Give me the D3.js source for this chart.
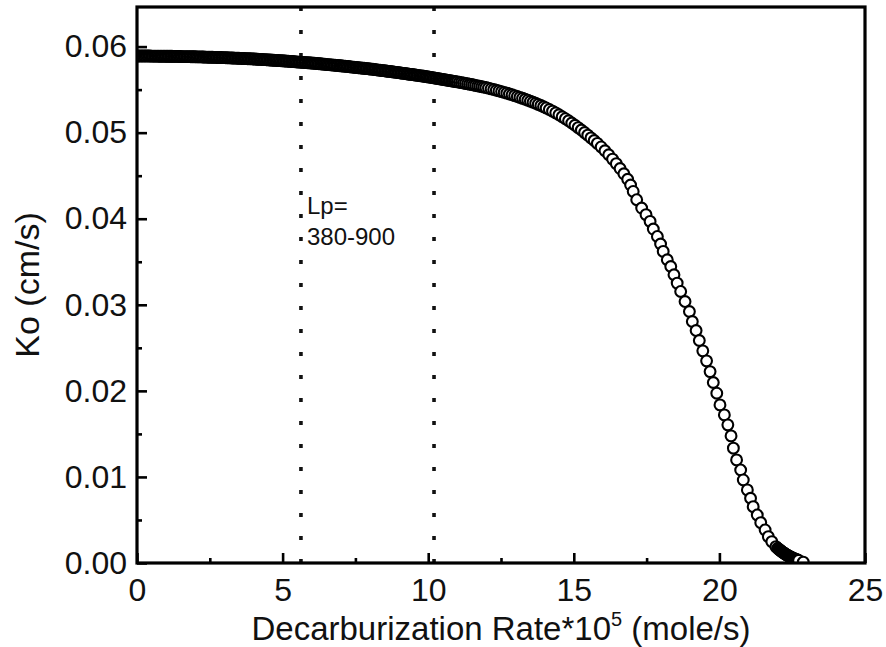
<!DOCTYPE html>
<html>
<head>
<meta charset="utf-8">
<script src="https://cdn.jsdelivr.net/npm/d3@7"></script>
<style>
  body { margin: 0; background: #fff; }
  text { font-family: "Liberation Sans", Arial, sans-serif; fill: #111; }
</style>
</head>
<body>
<div id="chart"></div>
<script>
// decarburization rate (*10^5 mole/s)
var rate = [
  0.00, 0.05, 0.10, 0.15, 0.20, 0.25, 0.30, 0.35, 0.40, 0.45, 0.50, 0.55, 0.60, 0.65, 0.70, 0.75, 0.80, 0.85, 0.90, 0.95,
  1.00, 1.05, 1.10, 1.15, 1.20, 1.25, 1.30, 1.35, 1.40, 1.45, 1.50, 1.55, 1.60, 1.65, 1.70, 1.75, 1.80, 1.85, 1.90, 1.95,
  2.00, 2.05, 2.10, 2.15, 2.20, 2.25, 2.30, 2.35, 2.40, 2.45, 2.50, 2.55, 2.60, 2.65, 2.70, 2.75, 2.80, 2.85, 2.90, 2.95,
  3.00, 3.05, 3.10, 3.15, 3.20, 3.25, 3.30, 3.35, 3.40, 3.45, 3.50, 3.55, 3.60, 3.65, 3.70, 3.75, 3.80, 3.85, 3.90, 3.95,
  4.00, 4.05, 4.10, 4.15, 4.20, 4.25, 4.30, 4.35, 4.40, 4.45, 4.50, 4.55, 4.60, 4.65, 4.70, 4.75, 4.80, 4.85, 4.90, 4.95,
  5.00, 5.05, 5.10, 5.15, 5.20, 5.25, 5.30, 5.35, 5.40, 5.45, 5.50, 5.55, 5.60, 5.65, 5.70, 5.75, 5.80, 5.85, 5.90, 5.95,
  6.00, 6.05, 6.10, 6.15, 6.20, 6.25, 6.30, 6.35, 6.40, 6.45, 6.50, 6.55, 6.60, 6.65, 6.70, 6.75, 6.80, 6.85, 6.90, 6.95,
  7.00, 7.05, 7.10, 7.15, 7.20, 7.25, 7.30, 7.35, 7.40, 7.45, 7.50, 7.55, 7.60, 7.65, 7.70, 7.75, 7.80, 7.85, 7.90, 7.95,
  8.00, 8.05, 8.10, 8.15, 8.20, 8.25, 8.30, 8.35, 8.40, 8.45, 8.50, 8.55, 8.60, 8.65, 8.70, 8.75, 8.80, 8.85, 8.90, 8.95,
  9.00, 9.05, 9.10, 9.15, 9.20, 9.25, 9.30, 9.35, 9.40, 9.45, 9.50, 9.55, 9.60, 9.65, 9.70, 9.75, 9.80, 9.85, 9.90, 9.95,
  10.00, 10.05, 10.10, 10.15, 10.20, 10.25, 10.30, 10.35, 10.40, 10.45, 10.50, 10.55, 10.60, 10.65, 10.70, 10.75, 10.80, 10.85, 10.90, 10.95,
  11.00, 11.07, 11.14, 11.21, 11.28, 11.35, 11.42, 11.49, 11.56, 11.63, 11.70, 11.77, 11.84, 11.91, 11.98,
  12.07, 12.16, 12.25, 12.34, 12.43, 12.52, 12.61, 12.70, 12.79, 12.88, 12.97, 13.06,
  13.15, 13.24, 13.33, 13.42, 13.51, 13.60, 13.69, 13.78, 13.87, 13.96, 14.05,
  14.16, 14.27, 14.38, 14.49, 14.60, 14.71, 14.82, 14.93, 15.04, 15.15, 15.26, 15.37, 15.48, 15.59, 15.70,
  15.81, 15.94, 16.07, 16.20, 16.33, 16.46, 16.59, 16.72, 16.85, 16.95,
  17.04, 17.16, 17.33, 17.48, 17.62, 17.73, 17.87, 17.98, 18.07, 18.21, 18.33, 18.44, 18.55, 18.67,
  18.82, 18.97, 19.07, 19.20, 19.31, 19.43, 19.56, 19.68, 19.79, 19.91, 20.02, 20.17, 20.29, 20.40,
  20.48, 20.59, 20.73, 20.82, 20.96, 21.07, 21.16, 21.30, 21.42, 21.57, 21.68, 21.80, 21.94,
  22.00, 22.03, 22.06, 22.09, 22.12, 22.15, 22.18, 22.21, 22.24, 22.27, 22.30, 22.33, 22.36,
  22.39, 22.42, 22.45, 22.48, 22.51, 22.54, 22.57, 22.60, 22.63, 22.66, 22.69, 22.72, 22.88
];

// Ko (cm/s), one per rate above
var ko = [
  0.05890, 0.05890, 0.05890, 0.05890, 0.05890, 0.05890, 0.05890, 0.05890, 0.05890, 0.05890, 0.05889, 0.05889, 0.05889, 0.05889, 0.05889, 0.05888, 0.05888, 0.05888, 0.05888, 0.05888,
  0.05888, 0.05887, 0.05887, 0.05887, 0.05887, 0.05886, 0.05886, 0.05886, 0.05886, 0.05885, 0.05885, 0.05884, 0.05884, 0.05884, 0.05884, 0.05883, 0.05883, 0.05882, 0.05882, 0.05882,
  0.05882, 0.05881, 0.05881, 0.05880, 0.05880, 0.05879, 0.05879, 0.05878, 0.05878, 0.05877, 0.05877, 0.05876, 0.05876, 0.05875, 0.05875, 0.05874, 0.05874, 0.05873, 0.05873, 0.05872,
  0.05872, 0.05871, 0.05870, 0.05869, 0.05869, 0.05868, 0.05867, 0.05866, 0.05866, 0.05865, 0.05864, 0.05863, 0.05862, 0.05861, 0.05861, 0.05860, 0.05859, 0.05858, 0.05858, 0.05857,
  0.05856, 0.05855, 0.05854, 0.05853, 0.05852, 0.05851, 0.05850, 0.05849, 0.05848, 0.05847, 0.05846, 0.05845, 0.05844, 0.05842, 0.05841, 0.05840, 0.05839, 0.05838, 0.05837, 0.05836,
  0.05835, 0.05833, 0.05832, 0.05831, 0.05830, 0.05828, 0.05827, 0.05826, 0.05825, 0.05823, 0.05822, 0.05820, 0.05819, 0.05818, 0.05817, 0.05815, 0.05814, 0.05813, 0.05812, 0.05810,
  0.05809, 0.05807, 0.05806, 0.05804, 0.05803, 0.05801, 0.05800, 0.05798, 0.05796, 0.05795, 0.05793, 0.05791, 0.05790, 0.05788, 0.05787, 0.05785, 0.05783, 0.05782, 0.05780, 0.05778,
  0.05777, 0.05775, 0.05773, 0.05771, 0.05770, 0.05768, 0.05766, 0.05764, 0.05762, 0.05760, 0.05759, 0.05757, 0.05755, 0.05753, 0.05751, 0.05749, 0.05748, 0.05746, 0.05744, 0.05742,
  0.05740, 0.05738, 0.05736, 0.05734, 0.05732, 0.05729, 0.05727, 0.05725, 0.05723, 0.05721, 0.05719, 0.05716, 0.05714, 0.05712, 0.05710, 0.05708, 0.05706, 0.05703, 0.05701, 0.05699,
  0.05697, 0.05694, 0.05692, 0.05689, 0.05687, 0.05684, 0.05682, 0.05679, 0.05677, 0.05675, 0.05673, 0.05670, 0.05668, 0.05665, 0.05663, 0.05660, 0.05658, 0.05655, 0.05653, 0.05650,
  0.05648, 0.05645, 0.05642, 0.05640, 0.05637, 0.05634, 0.05631, 0.05628, 0.05625, 0.05622, 0.05619, 0.05616, 0.05613, 0.05610, 0.05608, 0.05605, 0.05602, 0.05599, 0.05596, 0.05593,
  0.05590, 0.05586, 0.05581, 0.05577, 0.05572, 0.05568, 0.05563, 0.05559, 0.05554, 0.05549, 0.05544, 0.05540, 0.05535, 0.05529, 0.05524,
  0.05517, 0.05509, 0.05501, 0.05493, 0.05485, 0.05477, 0.05468, 0.05459, 0.05449, 0.05440, 0.05430, 0.05420,
  0.05410, 0.05399, 0.05388, 0.05377, 0.05365, 0.05353, 0.05341, 0.05328, 0.05315, 0.05301, 0.05287,
  0.05269, 0.05250, 0.05230, 0.05208, 0.05185, 0.05162, 0.05138, 0.05112, 0.05086, 0.05059, 0.05031, 0.05001, 0.04971, 0.04939, 0.04909,
  0.04876, 0.04834, 0.04790, 0.04743, 0.04693, 0.04640, 0.04583, 0.04522, 0.04458, 0.04392,
  0.04317, 0.04221, 0.04124, 0.04047, 0.03969, 0.03880, 0.03794, 0.03706, 0.03620, 0.03523, 0.03445, 0.03349, 0.03252, 0.03155,
  0.03038, 0.02922, 0.02806, 0.02701, 0.02585, 0.02465, 0.02349, 0.02224, 0.02097, 0.01973, 0.01837, 0.01721, 0.01605, 0.01477,
  0.01334, 0.01198, 0.01081, 0.00965, 0.00849, 0.00752, 0.00655, 0.00558, 0.00469, 0.00384, 0.00306, 0.00248, 0.00190,
  0.00172, 0.00163, 0.00155, 0.00147, 0.00139, 0.00131, 0.00124, 0.00117, 0.00110, 0.00103, 0.00097, 0.00091, 0.00085,
  0.00079, 0.00074, 0.00069, 0.00064, 0.00059, 0.00054, 0.00050, 0.00046, 0.00042, 0.00038, 0.00034, 0.00030, 0.00010
];

var xTicks = [0, 5, 10, 15, 20, 25];
var xMinor = [2.5, 7.5, 12.5, 17.5, 22.5];
var yTicks = [0, 0.01, 0.02, 0.03, 0.04, 0.05, 0.06];
var yMinor = [0.005, 0.015, 0.025, 0.035, 0.045, 0.055];
var lpLines = [5.63, 10.2];
var lpNote = ["Lp=", "380-900"];

var svgWidth = 886;
var svgHeight = 647;
var margin = { top: 7, right: 21, bottom: 84, left: 137 };
var width = svgWidth - margin.left - margin.right;
var height = svgHeight - margin.top - margin.bottom;

var svg = d3.select("#chart")
  .append("svg")
  .attr("width", svgWidth)
  .attr("height", svgHeight);

var g = svg.append("g")
  .attr("transform", `translate(${margin.left}, ${margin.top})`);

var xScale = d3.scaleLinear().domain([0, 25]).range([0, width]);
var yScale = d3.scaleLinear().domain([0, 0.0646]).range([height, 0]);

g.append("clipPath").attr("id", "plotClip")
  .append("rect").attr("width", width).attr("height", height);

// dotted markers for the Lp range
g.selectAll(".lp")
  .data(lpLines)
  .enter()
  .append("line")
  .attr("class", "lp")
  .attr("x1", d => xScale(d))
  .attr("x2", d => xScale(d))
  .attr("y1", height)
  .attr("y2", 0)
  .attr("stroke", "#111")
  .attr("stroke-width", 3.6)
  .attr("stroke-dasharray", "4,19");

g.selectAll(".note")
  .data(lpNote)
  .enter()
  .append("text")
  .attr("class", "note")
  .attr("x", xScale(lpLines[0]) + 6)
  .attr("y", (d, i) => 207 + i * 31)
  .attr("font-size", "24px")
  .text(d => d);

// scatter
var pts = rate.map((r, i) => ({ r: r, k: ko[i] }));
g.append("g")
  .attr("clip-path", "url(#plotClip)")
  .selectAll("circle")
  .data(pts)
  .enter()
  .append("circle")
  .attr("cx", d => xScale(d.r))
  .attr("cy", d => yScale(d.k))
  .attr("r", 5.4)
  .attr("fill", "#fff")
  .attr("stroke", "#000")
  .attr("stroke-width", 2.1);

// axes, ticks pointing inward
g.append("g")
  .attr("transform", `translate(0, ${height})`)
  .call(d3.axisBottom(xScale).tickValues(xTicks).tickSize(-10).tickPadding(15).tickFormat(d3.format("d")));
g.append("g")
  .attr("transform", `translate(0, ${height})`)
  .call(d3.axisBottom(xScale).tickValues(xMinor).tickSize(-5).tickFormat(""));

g.append("g")
  .call(d3.axisLeft(yScale).tickValues(yTicks).tickSize(-10).tickPadding(10).tickFormat(d3.format(".2f")));
g.append("g")
  .call(d3.axisLeft(yScale).tickValues(yMinor).tickSize(-5).tickFormat(""));

g.selectAll(".domain").remove();
g.selectAll(".tick line").attr("stroke", "#000").attr("stroke-width", 2.6);
g.selectAll(".tick text")
  .attr("font-size", "32px")
  .attr("font-family", "Liberation Sans, Arial, sans-serif")
  .attr("fill", "#111");

// frame
g.append("rect")
  .attr("width", width)
  .attr("height", height)
  .attr("fill", "none")
  .attr("stroke", "#000")
  .attr("stroke-width", 3.2);

// axis titles
var xTitle = svg.append("text")
  .attr("x", margin.left + width / 2)
  .attr("y", 640)
  .attr("text-anchor", "middle")
  .attr("font-size", "33px");
xTitle.append("tspan").text("Decarburization Rate*10");
xTitle.append("tspan").attr("font-size", "20px").attr("dy", -14).text("5");
xTitle.append("tspan").attr("dy", 14).text(" (mole/s)");

svg.append("text")
  .attr("transform", `translate(39, ${margin.top + height / 2}) rotate(-90)`)
  .attr("text-anchor", "middle")
  .attr("font-size", "34px")
  .text("Ko (cm/s)");
</script>
</body>
</html>
